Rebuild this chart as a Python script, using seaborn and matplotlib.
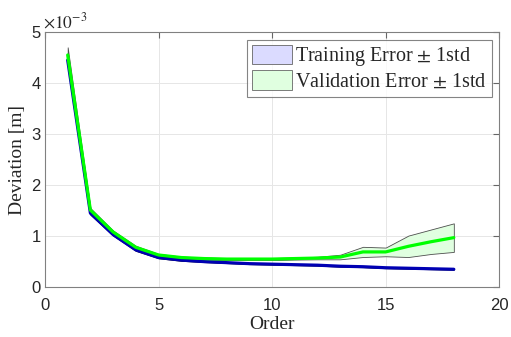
import matplotlib
matplotlib.use("Agg")
import matplotlib.pyplot as plt
import seaborn as sns
import numpy as np
import pandas as pd
from matplotlib.patches import Patch

order = [1, 2, 3, 4, 5, 6, 7, 8, 9, 10, 11, 12, 13, 14, 15, 16, 17, 18]
train_mean = [4.45, 1.45, 1.03, 0.73, 0.58, 0.53, 0.50, 0.48, 0.46, 0.45, 0.44, 0.43, 0.41, 0.40, 0.38, 0.37, 0.36, 0.35]
train_std = [0.06, 0.03, 0.02, 0.02, 0.015, 0.015, 0.01, 0.01, 0.01, 0.01, 0.01, 0.01, 0.01, 0.01, 0.01, 0.01, 0.01, 0.01]
val_mean = [4.55, 1.51, 1.08, 0.78, 0.63, 0.58, 0.56, 0.55, 0.55, 0.55, 0.56, 0.57, 0.59, 0.69, 0.69, 0.80, 0.89, 0.97]
val_std = [0.15, 0.04, 0.03, 0.03, 0.02, 0.02, 0.02, 0.02, 0.02, 0.02, 0.02, 0.025, 0.045, 0.10, 0.085, 0.21, 0.24, 0.28]
scale = 1e-3

x = np.array(order)
tm = np.array(train_mean) * scale
ts = np.array(train_std) * scale
vm = np.array(val_mean) * scale
vs = np.array(val_std) * scale

df = pd.DataFrame({"Order": np.concatenate([x, x]),
                   "Deviation": np.concatenate([tm, vm]),
                   "Series": ["Training"] * len(x) + ["Validation"] * len(x)})

sns.set_style("white")
plt.rcParams["font.family"] = ["Liberation Sans", "DejaVu Sans"]
plt.rcParams["mathtext.fontset"] = "stix"

fig = plt.figure(figsize=(5.11, 3.37), dpi=100)
ax = fig.add_axes([0.088, 0.148, 0.889, 0.757])

train_fill = (0.86, 0.86, 1.0)
val_fill = (0.88, 1.0, 0.88)

ax.fill_between(x, tm - ts, tm + ts, facecolor=train_fill, edgecolor="black", linewidth=0.6, zorder=2)
ax.fill_between(x, vm - vs, vm + vs, facecolor=val_fill, edgecolor=(0.3, 0.3, 0.3), linewidth=0.6, zorder=2)

sns.lineplot(data=df, x="Order", y="Deviation", hue="Series",
             palette={"Training": (0.0, 0.0, 0.7), "Validation": (0.0, 1.0, 0.0)},
             linewidth=2.3, ax=ax, legend=False, zorder=3)

ax.set_xlim(0, 20)
ax.set_ylim(0, 5e-3)
ax.set_xticks([0, 5, 10, 15, 20])
ax.set_yticks(np.arange(0, 6) * 1e-3)
ax.set_yticklabels(["0", "1", "2", "3", "4", "5"])
ax.text(-0.005, 1.005, r"$\times10^{-3}$", transform=ax.transAxes, ha="left", va="bottom",
        fontsize=12.5, color=(0.15, 0.15, 0.15))

ax.grid(True, color=(0.9, 0.9, 0.9), linewidth=0.7)
ax.set_axisbelow(True)
for s in ax.spines.values():
    s.set_color((0.5, 0.5, 0.5))
    s.set_linewidth(0.8)
ax.tick_params(direction="in", top=True, right=True, length=4, color=(0.4, 0.4, 0.4),
               labelsize=12, labelcolor=(0.15, 0.15, 0.15))
ax.tick_params(axis="x", pad=8)
ax.tick_params(axis="y", pad=3)

ax.set_xlabel("Order", family="Liberation Serif", fontsize=14, labelpad=2)
ax.set_ylabel("Deviation [m]", family="Liberation Serif", fontsize=14, labelpad=4)

handles = [Patch(facecolor=train_fill, edgecolor=(0.4, 0.4, 0.4), linewidth=0.6),
           Patch(facecolor=val_fill, edgecolor=(0.4, 0.4, 0.4), linewidth=0.6)]
leg = ax.legend(handles, [r"Training Error $\pm$ 1std", r"Validation Error $\pm$ 1std"],
                loc="upper right", bbox_to_anchor=(0.992, 0.985), fancybox=False,
                prop={"family": "Liberation Serif", "size": 14.5},
                handlelength=2.0, handleheight=1.1, handletextpad=0.15,
                borderpad=0.25, labelspacing=0.1, borderaxespad=0.2)
leg.get_frame().set_edgecolor((0.4, 0.4, 0.4))
leg.get_frame().set_linewidth(0.8)

fig.savefig("out.png", dpi=100, facecolor="white")
